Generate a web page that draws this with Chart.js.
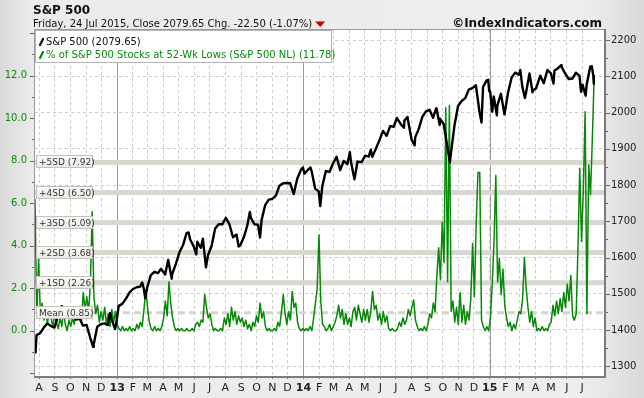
<!DOCTYPE html>
<html><head><meta charset="utf-8">
<script src="https://cdn.jsdelivr.net/npm/chart.js@4.4.1/dist/chart.umd.min.js"></script>
<style>
html,body{margin:0;padding:0;width:644px;height:398px;overflow:hidden;
background:linear-gradient(to right,#d9d9d9 0%,#ebebeb 5%,#eeeeee 90%,#dadada 100%);}
canvas{display:block}
</style></head><body>
<canvas id="c" width="644" height="398"></canvas>
<script>
const FONT = '"DejaVu Sans", Verdana, sans-serif';

const titleText = 'S&P 500';
const subtitleText = 'Friday, 24 Jul 2015, Close 2079.65 Chg. -22.50 (-1.07%)';
const creditText = '\u00A9IndexIndicators.com';
const legendLabels = ['S&P 500 (2079.65)', '% of S&P 500 Stocks at 52-Wk Lows (S&P 500 NL) (11.78)'];

const monthTicks = ['2012-08-01','2012-09-01','2012-10-01','2012-11-01','2012-12-01',
 '2013-01-01','2013-02-01','2013-03-01','2013-04-01','2013-05-01','2013-06-01','2013-07-01','2013-08-01','2013-09-01','2013-10-01','2013-11-01','2013-12-01',
 '2014-01-01','2014-02-01','2014-03-01','2014-04-01','2014-05-01','2014-06-01','2014-07-01','2014-08-01','2014-09-01','2014-10-01','2014-11-01','2014-12-01',
 '2015-01-01','2015-02-01','2015-03-01','2015-04-01','2015-05-01','2015-06-01','2015-07-01'];
const monthLabels = ['A','S','O','N','D','13','F','M','A','M','J','J','A','S','O','N','D','14','F','M','A','M','J','J','A','S','O','N','D','15','F','M','A','M','J','J'];
const yearTicks = ['2013-01-01','2014-01-01','2015-01-01'];

const leftTicks = [0, 2, 4, 6, 8, 10, 12];
const rightTicks = [1300, 1400, 1500, 1600, 1700, 1800, 1900, 2000, 2100, 2200];

const sdLevels = [7.92, 6.50, 5.09, 3.68, 2.26];
const sdLabels = ['+5SD (7.92)', '+4SD (6.50)', '+3SD (5.09)', '+2SD (3.68)', '+1SD (2.26)'];
const meanLevel = 0.85;
const meanLabel = 'Mean (0.85)';

const spxDates = ['2012-07-24','2012-07-25','2012-07-27','2012-08-03','2012-08-10','2012-08-17','2012-08-24','2012-08-31','2012-09-07','2012-09-14','2012-09-21','2012-09-28','2012-10-05','2012-10-12','2012-10-19','2012-10-26','2012-11-02','2012-11-09','2012-11-15','2012-11-16','2012-11-23','2012-11-30','2012-12-07','2012-12-14','2012-12-18','2012-12-21','2012-12-28','2012-12-31',
'2013-01-04','2013-01-11','2013-01-18','2013-01-25','2013-02-01','2013-02-08','2013-02-15','2013-02-19','2013-02-22','2013-02-25','2013-03-01','2013-03-08','2013-03-15','2013-03-22','2013-03-28','2013-04-05','2013-04-11','2013-04-18','2013-04-19','2013-04-26','2013-05-03','2013-05-10','2013-05-17','2013-05-21','2013-05-24','2013-05-31','2013-06-05','2013-06-07','2013-06-14','2013-06-18','2013-06-24','2013-06-28','2013-07-05','2013-07-12','2013-07-19','2013-07-26','2013-08-02','2013-08-09','2013-08-16','2013-08-23','2013-08-27','2013-08-30','2013-09-06','2013-09-13','2013-09-18','2013-09-20','2013-09-27','2013-10-04','2013-10-08','2013-10-11','2013-10-18','2013-10-25','2013-11-01','2013-11-08','2013-11-15','2013-11-22','2013-11-29','2013-12-06','2013-12-13','2013-12-20','2013-12-27','2013-12-31',
'2014-01-03','2014-01-10','2014-01-15','2014-01-17','2014-01-24','2014-01-31','2014-02-03','2014-02-07','2014-02-14','2014-02-21','2014-02-28','2014-03-07','2014-03-14','2014-03-21','2014-03-28','2014-04-02','2014-04-04','2014-04-11','2014-04-17','2014-04-25','2014-05-02','2014-05-09','2014-05-13','2014-05-16','2014-05-23','2014-05-30','2014-06-06','2014-06-13','2014-06-20','2014-06-27','2014-07-03','2014-07-11','2014-07-17','2014-07-18','2014-07-24','2014-07-25','2014-08-01','2014-08-07','2014-08-08','2014-08-15','2014-08-22','2014-08-29','2014-09-05','2014-09-12','2014-09-18','2014-09-19','2014-09-25','2014-09-26','2014-10-03','2014-10-10','2014-10-15','2014-10-17','2014-10-24','2014-10-31','2014-11-07','2014-11-14','2014-11-21','2014-11-28','2014-12-05','2014-12-12','2014-12-16','2014-12-19','2014-12-26','2014-12-29','2014-12-31',
'2015-01-02','2015-01-06','2015-01-09','2015-01-15','2015-01-16','2015-01-23','2015-01-30','2015-02-06','2015-02-13','2015-02-20','2015-02-27','2015-03-02','2015-03-06','2015-03-11','2015-03-13','2015-03-20','2015-03-26','2015-03-27','2015-04-02','2015-04-10','2015-04-17','2015-04-24','2015-05-01','2015-05-06','2015-05-08','2015-05-15','2015-05-21','2015-05-22','2015-05-29','2015-06-05','2015-06-12','2015-06-19','2015-06-26','2015-06-29','2015-07-02','2015-07-08','2015-07-10','2015-07-17','2015-07-20','2015-07-23','2015-07-24'];
const spxValues = [1338.31,1337.89,1385.97,1390.99,1405.87,1418.16,1411.13,1406.58,1437.92,1465.77,1460.15,1440.67,1460.93,1428.59,1433.19,1411.94,1414.20,1379.85,1353.33,1359.88,1409.15,1416.18,1418.07,1413.58,1446.79,1430.15,1402.43,1426.19,
1466.47,1472.05,1485.98,1502.96,1513.17,1517.93,1519.79,1530.94,1515.60,1487.85,1518.20,1551.18,1560.70,1556.89,1569.19,1553.28,1593.37,1541.61,1555.25,1582.24,1614.42,1633.70,1667.47,1669.16,1649.60,1630.74,1608.90,1643.38,1626.73,1651.81,1573.09,1606.28,1631.89,1680.19,1692.09,1691.65,1709.67,1691.42,1655.83,1663.50,1630.48,1632.97,1655.17,1687.99,1725.52,1709.91,1691.75,1690.50,1655.45,1703.20,1744.50,1759.77,1761.64,1770.61,1798.18,1804.76,1805.81,1805.09,1775.32,1818.32,1841.40,1848.36,
1831.37,1842.37,1848.38,1838.70,1790.29,1782.59,1741.89,1797.02,1838.63,1836.25,1859.45,1878.04,1841.13,1866.52,1857.62,1890.90,1865.09,1815.69,1864.85,1863.40,1881.14,1878.48,1897.45,1877.86,1900.53,1923.57,1949.44,1936.16,1962.87,1960.96,1985.44,1967.57,1958.12,1978.22,1987.98,1978.34,1925.15,1909.57,1931.59,1955.06,1988.40,2003.37,2007.71,1985.54,2011.36,2010.40,1965.99,1982.85,1967.90,1906.13,1862.49,1886.76,1964.58,2018.05,2031.92,2039.82,2063.50,2067.56,2075.37,2002.33,1972.74,2070.65,2088.77,2090.57,2058.90,
2058.20,2002.61,2044.81,1992.67,2019.42,2051.82,1994.99,2055.47,2096.99,2110.30,2104.50,2117.39,2071.26,2040.24,2053.40,2108.10,2056.15,2061.02,2066.96,2102.06,2081.18,2117.69,2108.29,2080.15,2116.10,2122.73,2130.82,2126.06,2107.39,2092.83,2094.11,2109.99,2101.49,2057.64,2076.78,2046.68,2076.62,2126.64,2128.28,2102.15,2079.65];

// % of S&P 500 stocks at 52-week lows, read twice a week from 24 Jul 2012
const nlStart = '2012-07-24';
const nlStepDays = 3.5;
const nlValues = [
// 2012 Jul
6.2, 0.6, 3.4,
// Aug
0.8, 1.3, 0.5, 0.9, 0.3, 1.0, 0.6, 0.2, 0.7,
// Sep
0.4, 0.1, 0.6, 0.2, 0.9, 0.3, 0.0, 0.5,
// Oct
0.2, 0.6, 0.3, 1.0, 0.5, 0.9, 0.4, 1.8, 1.0,
// Nov
1.6, 0.9, 2.2, 5.6, 1.6, 0.8, 1.2, 0.4, 0.9,
// Dec
0.5, 1.1, 0.3, 0.8, 0.2, 1.0, 0.4, 0.9,
// 2013 Jan
0.3, 0.1, 0.0, 0.2, 0.0, 0.1, 0.0, 0.2, 0.0,
// Feb
0.1, 0.0, 0.3, 0.1, 0.4, 0.2, 1.0, 1.9,
// Mar
1.1, 0.4, 0.1, 0.0, 0.2, 0.0, 0.1, 0.0, 0.2,
// Apr
0.6, 1.4, 0.7, 2.3, 1.3, 0.6, 0.2, 0.0, 0.1,
// May
0.0, 0.1, 0.0, 0.0, 0.1, 0.0, 0.0, 0.1, 0.0,
// Jun
0.3, 0.4, 0.2, 0.5, 0.4, 1.7, 1.1, 0.6,
// Jul
0.8, 0.3, 0.0, 0.1, 0.0, 0.0, 0.1, 0.0, 0.6,
// Aug
0.3, 0.8, 0.2, 1.1, 0.5, 0.9, 0.3, 0.7, 0.4,
// Sep
0.6, 0.2, 0.5, 0.1, 0.3, 0.0, 0.4, 0.2,
// Oct
0.7, 0.4, 1.3, 0.6, 0.9, 0.2, 0.0, 0.1, 0.0,
// Nov
0.0, 0.1, 0.0, 0.4, 0.2, 0.9, 1.7, 0.8, 0.3,
// Dec
0.9, 0.5, 1.85, 1.1, 1.3, 0.4, 0.1, 0.0, 0.1,
// 2014 Jan
0.0, 0.1, 0.0, 0.2, 0.0, 0.6, 1.3, 2.0, 4.5,
// Feb
1.4, 0.3, 0.2, 0.0, 0.1, 0.3, 0.0, 0.2,
// Mar
0.4, 0.7, 1.2, 0.6, 1.0, 0.3, 0.8, 0.3,
// Apr
0.6, 0.2, 0.9, 1.1, 0.5, 1.2, 0.8, 0.4, 1.0,
// May
0.5, 1.0, 0.4, 0.9, 1.85, 1.0, 1.2, 0.5, 0.8,
// Jun
0.3, 0.9, 0.4, 0.7, 0.1, 0.0, 0.1, 0.0,
// Jul
0.0, 0.1, 0.4, 0.2, 0.6, 0.3, 0.5, 1.0, 0.7,
// Aug
1.1, 1.45, 0.5, 0.2, 0.0, 0.1, 0.0, 0.2, 0.0,
// Sep
0.3, 0.8, 0.6, 1.3, 0.9, 2.6, 3.9, 2.4, 5.1,
// Oct
3.2, 10.5, 2.3, 10.6, 0.9, 1.4, 0.4, 1.1, 0.3,
// Nov
1.8, 0.4, 1.2, 0.3, 0.9, 0.5, 1.5, 4.1,
// Dec
1.6, 5.0, 7.45, 7.45, 0.5, 0.2, 0.0, 0.2, 0.0,
// 2015 Jan
0.6, 2.2, 4.2, 7.3, 2.3, 3.4, 1.7, 2.9, 1.2,
// Feb
0.6, 0.2, 0.4, 0.0, 0.3, 0.1, 0.5, 0.9,
// Mar
0.8, 1.5, 3.45, 2.0, 1.1, 0.4, 0.9, 0.2, 0.6,
// Apr
0.0, 0.1, 0.0, 0.2, 0.0, 0.1, 0.0, 0.3,
// May
0.4, 1.2, 0.7, 1.4, 0.8, 1.5, 0.9, 1.8, 1.1,
// Jun
2.2, 1.4, 2.6, 0.7, 0.5, 0.8, 3.9, 7.65, 4.2,
// Jul
6.6, 10.3, 0.8, 7.8, 6.4, 8.9, 11.78
];

const xStart = '2012-07-24';
const xEnd = '2015-08-13';

// ---------- helpers ----------
const DAY0 = Date.UTC(2013, 0, 1);
const toDay = s => (Date.parse(s + 'T00:00:00Z') - DAY0) / 86400000;

const spxPoints = spxDates.map((d, i) => ({x: toDay(d), y: spxValues[i]}));
const nlPoints = nlValues.map((v, i) => ({x: toDay(nlStart) + i * nlStepDays, y: v}));

const GREEN = '#0a8a0a';

const decor = {
  id: 'decor',
  beforeDraw(chart) {
    const {ctx, chartArea: a} = chart;
    ctx.save();
    ctx.fillStyle = '#ffffff';
    ctx.fillRect(a.left, a.top, a.right - a.left, a.bottom - a.top);
    ctx.restore();
  },
  beforeDatasetsDraw(chart) {
    const {ctx, chartArea: a, scales} = chart;
    ctx.save();
    ctx.strokeStyle = '#9c9c9c';
    ctx.lineWidth = 1;
    yearTicks.forEach(t => {
      const x = Math.round(scales.x.getPixelForValue(toDay(t))) + 0.5;
      ctx.beginPath(); ctx.moveTo(x, a.top); ctx.lineTo(x, a.bottom); ctx.stroke();
    });
    ctx.strokeStyle = '#d8d8d0';
    ctx.lineWidth = 5;
    sdLevels.forEach(v => {
      const y = scales.yL.getPixelForValue(v);
      ctx.beginPath(); ctx.moveTo(a.left, y); ctx.lineTo(a.right, y); ctx.stroke();
    });
    ctx.strokeStyle = '#d4d4cc';
    ctx.lineWidth = 3;
    ctx.setLineDash([7, 4]);
    const ym = scales.yL.getPixelForValue(meanLevel);
    ctx.beginPath(); ctx.moveTo(a.left, ym); ctx.lineTo(a.right, ym); ctx.stroke();
    ctx.restore();
  },
  afterDatasetsDraw(chart) {
    const {ctx, chartArea: a, scales} = chart;
    ctx.save();
    const boxes = sdLevels.map((v, i) => [v, sdLabels[i]]).concat([[meanLevel, meanLabel]]);
    ctx.font = '9px ' + FONT;
    ctx.textBaseline = 'middle';
    boxes.forEach(([v, txt]) => {
      const y = Math.round(scales.yL.getPixelForValue(v));
      const bx = a.left + 1.5, by = y - 6.5, bw = 56, bh = 12;
      const g = ctx.createLinearGradient(0, by, 0, by + bh);
      g.addColorStop(0, '#fbfbf9'); g.addColorStop(1, '#e9e9e4');
      ctx.fillStyle = g;
      ctx.fillRect(bx, by, bw, bh);
      ctx.strokeStyle = '#c2c2ba';
      ctx.lineWidth = 1;
      ctx.strokeRect(bx, by, bw, bh);
      ctx.fillStyle = '#333333';
      ctx.textAlign = 'left';
      ctx.fillText(txt, bx + 2.5, y + 0.5);
    });
    ctx.fillStyle = '#ffffff';
    ctx.fillRect(a.left + 0.5, a.top + 0.5, 296, 32);
    ctx.strokeStyle = '#b4b4b4';
    ctx.lineWidth = 1;
    ctx.strokeRect(a.left + 0.5, a.top + 0.5, 296, 32);
    ctx.font = '10px ' + FONT;
    ctx.textBaseline = 'alphabetic';
    const rows = [[legendLabels[0], '#111111', a.top + 15], [legendLabels[1], GREEN, a.top + 28]];
    rows.forEach(([txt, col, yb]) => {
      ctx.strokeStyle = col; ctx.lineWidth = 2.2; ctx.lineCap = 'round';
      ctx.beginPath(); ctx.moveTo(a.left + 5, yb); ctx.lineTo(a.left + 8, yb - 6); ctx.stroke();
      ctx.fillStyle = col;
      ctx.fillText(txt, a.left + 11, yb);
    });
    ctx.restore();
  },
  afterDraw(chart) {
    const {ctx, chartArea: a, scales} = chart;
    ctx.save();
    ctx.strokeStyle = '#9a9a9a'; ctx.lineWidth = 1;
    ctx.beginPath();
    ctx.moveTo(a.left - 0.5, a.bottom); ctx.lineTo(a.left - 0.5, a.top - 0.5); ctx.lineTo(a.right, a.top - 0.5);
    ctx.stroke();
    ctx.strokeStyle = '#7c7c7c'; ctx.lineWidth = 2;
    ctx.beginPath();
    ctx.moveTo(a.right + 1, a.top - 1); ctx.lineTo(a.right + 1, a.bottom + 1); ctx.lineTo(a.left - 1, a.bottom + 1);
    ctx.stroke();
    ctx.strokeStyle = '#666666'; ctx.lineWidth = 1;
    for (let v = -2; v <= 14; v++) {
      const y = Math.round(scales.yL.getPixelForValue(v)) + 0.5;
      const len = v % 2 === 0 ? 4 : 2;
      ctx.beginPath(); ctx.moveTo(a.left - 1 - len, y); ctx.lineTo(a.left - 1, y); ctx.stroke();
    }
    for (let v = 1300; v <= 2200; v += 50) {
      const y = Math.round(scales.yR.getPixelForValue(v)) + 0.5;
      const len = v % 100 === 0 ? 4 : 2;
      ctx.beginPath(); ctx.moveTo(a.right + 2, y); ctx.lineTo(a.right + 2 + len, y); ctx.stroke();
    }
    ctx.fillStyle = '#111111';
    ctx.textBaseline = 'alphabetic';
    ctx.textAlign = 'left';
    ctx.font = 'bold 12px ' + FONT;
    ctx.fillText(titleText, 33, 14);
    ctx.font = '10px ' + FONT;
    ctx.fillText(subtitleText, 33, 26.5);
    const w = ctx.measureText(subtitleText).width;
    const tx = 33 + w + 3;
    ctx.fillStyle = '#cc0000';
    ctx.beginPath(); ctx.moveTo(tx, 21.5); ctx.lineTo(tx + 10, 21.5); ctx.lineTo(tx + 5, 27); ctx.closePath(); ctx.fill();
    ctx.fillStyle = '#111111';
    ctx.font = 'bold 12px ' + FONT;
    ctx.textAlign = 'right';
    ctx.fillText(creditText, 602, 27);
    ctx.restore();
  }
};

new Chart(document.getElementById('c'), {
  type: 'line',
  data: {
    datasets: [
      {label: legendLabels[0], data: spxPoints, xAxisID: 'x', yAxisID: 'yR',
       borderColor: '#000000', borderWidth: 2.4, pointRadius: 0, tension: 0, fill: false, borderJoinStyle: 'round'},
      {label: legendLabels[1], data: nlPoints, xAxisID: 'x', yAxisID: 'yL',
       borderColor: '#088808', borderWidth: 1.5, pointRadius: 0, tension: 0, fill: false, borderJoinStyle: 'round'}
    ]
  },
  options: {
    responsive: false,
    animation: false,
    devicePixelRatio: 1,
    layout: {padding: {top: 30, left: 0, right: 0, bottom: 0}},
    plugins: {legend: {display: false}, tooltip: {enabled: false}, title: {display: false}},
    scales: {
      x: {
        type: 'linear', position: 'bottom', min: toDay(xStart), max: toDay(xEnd),
        afterBuildTicks: s => { s.ticks = monthTicks.map(m => ({value: toDay(m)})); },
        afterFit: s => { s.height = 22; },
        grid: {color: '#cccccc', lineWidth: 1, drawTicks: true, tickLength: 3, tickColor: '#777777', tickWidth: 1},
        border: {display: false, dash: [3, 3]},
        ticks: {autoSkip: false, maxRotation: 0, minRotation: 0, padding: 3, color: '#222222',
          font: ctx => ({family: FONT, size: 11, weight: /^\d+$/.test(monthLabels[ctx.index]) ? 'bold' : 'normal'}),
          callback: (v, i) => monthLabels[i]}
      },
      yL: {
        type: 'linear', position: 'left', min: -2.13, max: 14.15,
        afterBuildTicks: s => { s.ticks = leftTicks.map(v => ({value: v})); },
        afterFit: s => { s.width = 35; },
        grid: {drawOnChartArea: false, drawTicks: false},
        border: {display: false},
        ticks: {padding: 8, color: GREEN, font: {family: FONT, size: 10}, callback: v => v.toFixed(1)}
      },
      yR: {
        type: 'linear', position: 'right', min: 1273, max: 2228,
        afterBuildTicks: s => { s.ticks = rightTicks.map(v => ({value: v})); },
        afterFit: s => { s.width = 40; },
        grid: {drawOnChartArea: true, drawTicks: false, color: '#cccccc', lineWidth: 1},
        border: {display: false, dash: [3, 3]},
        ticks: {padding: 7, color: '#222222', font: {family: FONT, size: 10}, callback: v => String(v)}
      }
    }
  },
  plugins: [decor]
});
</script>
</body></html>
